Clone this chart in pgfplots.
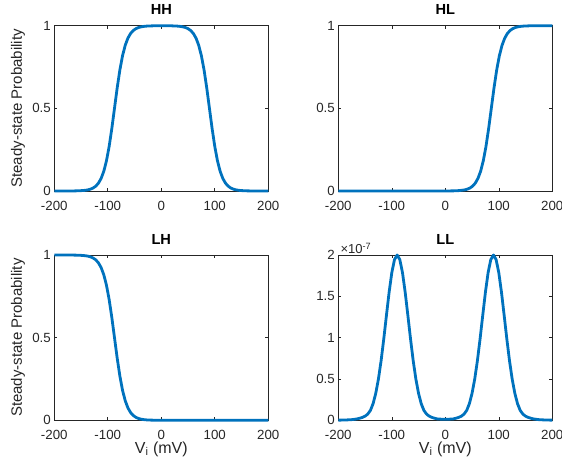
\documentclass[border=0pt]{standalone}
\usepackage{fontspec}
\setmainfont{Liberation Sans}
\usepackage{pgfplots}
\usepackage{pgfplotstable}
\pgfplotsset{compat=1.18}
\definecolor{mblue}{rgb}{0,0.447,0.741}
\definecolor{axgray}{rgb}{0.15,0.15,0.15}

\pgfplotstableread{
x y
-200 0
-180 0.0001
-162.5 0.0006
-152.5 0.0015
-142.5 0.0041
-137.5 0.0067
-132.5 0.0110
-127.5 0.0180
-122.5 0.0293
-117.5 0.0474
-112.5 0.0759
-107.5 0.1192
-102.5 0.1824
-97.5 0.2689
-92.5 0.3775
-87.5 0.5
-82.5 0.6225
-77.5 0.7311
-72.5 0.8176
-67.5 0.8808
-62.5 0.9241
-57.5 0.9526
-52.5 0.9707
-47.5 0.9820
-42.5 0.9890
-37.5 0.9933
-32.5 0.9959
-27.5 0.9975
-22.5 0.9985
-12.5 0.9994
0 0.9997
10 0.9997
20 0.9991
30 0.9975
35 0.9959
40 0.9933
45 0.9890
50 0.9820
55 0.9707
60 0.9526
65 0.9241
70 0.8808
75 0.8176
80 0.7311
85 0.6225
90 0.5
95 0.3775
100 0.2689
105 0.1824
110 0.1192
115 0.0759
120 0.0474
125 0.0293
130 0.0180
135 0.0110
140 0.0067
145 0.0041
150 0.0025
160 0.0009
170 0.0003
180 0.0001
200 0
}\HHdata

\pgfplotstableread{
x y
-200 0
0 0.0002
16 0.0009
26 0.0025
36 0.0067
41 0.0110
46 0.0180
51 0.0293
56 0.0474
61 0.0759
66 0.1192
71 0.1824
76 0.2689
81 0.3775
86 0.5
91 0.6225
96 0.7311
101 0.8176
106 0.8808
111 0.9241
116 0.9526
121 0.9707
126 0.9820
131 0.9890
136 0.9933
141 0.9959
146 0.9975
156 0.9991
166 0.9997
176 0.9999
200 1
}\HLdata

\pgfplotstableread{
x y
-200 1
-180 0.9999
-162.5 0.9994
-152.5 0.9985
-142.5 0.9959
-137.5 0.9933
-132.5 0.9890
-127.5 0.9820
-122.5 0.9707
-117.5 0.9526
-112.5 0.9241
-107.5 0.8808
-102.5 0.8176
-97.5 0.7311
-92.5 0.6225
-87.5 0.5
-82.5 0.3775
-77.5 0.2689
-72.5 0.1824
-67.5 0.1192
-62.5 0.0759
-57.5 0.0474
-52.5 0.0293
-47.5 0.0180
-42.5 0.0110
-37.5 0.0067
-32.5 0.0041
-27.5 0.0025
-22.5 0.0015
-12.5 0.0006
0 0.0002
20 0
200 0
}\LHdata

% LL values in units of 1e-7
\pgfplotstableread{
x y
-200 0.002
-190 0.003
-180 0.006
-175 0.008
-170 0.012
-165 0.017
-160 0.025
-155 0.035
-150 0.05
-145 0.075
-140 0.12
-135 0.201
-130 0.326
-125 0.499
-120 0.721
-115 0.985
-110 1.271
-105 1.550
-100 1.786
-95 1.944
-90 2.0
-85 1.944
-80 1.786
-75 1.550
-70 1.271
-65 0.985
-60 0.721
-55 0.499
-50 0.326
-45 0.201
-40 0.12
-35 0.075
-30 0.05
-25 0.035
-20 0.025
-15 0.017
-10 0.015
-5 0.012
0 0.012
5 0.012
10 0.015
15 0.017
20 0.025
25 0.035
30 0.05
35 0.075
40 0.12
45 0.201
50 0.326
55 0.499
60 0.721
65 0.985
70 1.271
75 1.550
80 1.786
85 1.944
90 2.0
95 1.944
100 1.786
105 1.550
110 1.271
115 0.985
120 0.721
125 0.499
130 0.326
135 0.201
140 0.12
145 0.075
150 0.05
155 0.035
160 0.025
165 0.017
170 0.012
175 0.008
180 0.006
190 0.003
200 0.002
}\LLdata

\pgfplotsset{
  mstyle/.style={
    scale only axis, width=214pt, height=165.3pt,
    anchor=south west,
    xmin=-200, xmax=200,
    xtick={-200,-100,0,100,200}, xticklabels={-200,-100,0,100,200},
    tick align=inside, tick pos=both, major tick length=3pt,
    axis line style={axgray, line width=0.6pt},
    every tick/.style={axgray, line width=0.6pt},
    tick label style={font=\fontsize{13.3}{15}\selectfont, text=axgray},
    xticklabel style={anchor=base, yshift=-19pt},
    title style={font=\fontsize{14.6}{16}\selectfont\bfseries, at={(axis description cs:0.5,1)}, anchor=base, inner sep=0pt, yshift=5pt},
    ylabel style={at={(axis description cs:-0.151,0.5)}, anchor=base, font=\fontsize{15}{17}\selectfont, text=axgray, inner sep=0pt},
    xlabel style={at={(axis description cs:0.5,-0.1996)}, anchor=base, font=\fontsize{16}{18}\selectfont, text=axgray, inner sep=0pt},
    clip=false,
    every axis plot post/.append style={draw=mblue, line width=2.8pt, mark=none, line join=round},
  },
  pstyle/.style={mstyle, ymin=0, ymax=1, ytick={0,0.5,1}, yticklabels={0,0.5,1}},
}

\begin{document}
\begin{tikzpicture}
\path[use as bounding box] (0pt,-466pt) rectangle (562pt,0pt);

\begin{axis}[pstyle, at={(54.3pt,-191pt)}, title={HH}, ylabel={Steady-state Probability}]
\addplot table[x=x,y=y] {\HHdata};
\end{axis}

\begin{axis}[pstyle, at={(338.3pt,-191pt)}, title={HL}]
\addplot table[x=x,y=y] {\HLdata};
\end{axis}

\begin{axis}[pstyle, at={(54.3pt,-420.3pt)}, title={LH}, ylabel={Steady-state Probability}, xlabel={V\textsubscript{i} (mV)}]
\addplot table[x=x,y=y] {\LHdata};
\end{axis}

\begin{axis}[mstyle, at={(338.3pt,-420.3pt)}, title={LL}, xlabel={V\textsubscript{i} (mV)},
  ymin=0, ymax=2, ytick={0,0.5,1,1.5,2}, yticklabels={0,0.5,1,1.5,2}]
\addplot table[x=x,y=y] {\LLdata};
\node[anchor=base west, inner sep=0pt, font=\fontsize{13}{14}\selectfont, text=axgray, xshift=2pt, yshift=1.6pt] at (rel axis cs:0,1) {×10\textsuperscript{-7}};
\end{axis}
\end{tikzpicture}
\end{document}
